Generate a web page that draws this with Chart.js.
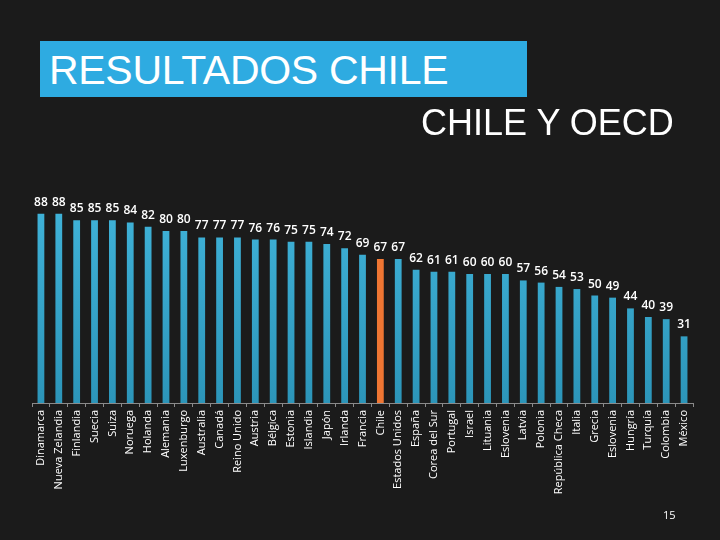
<!DOCTYPE html>
<html>
<head>
<meta charset="utf-8">
<script src="https://cdn.jsdelivr.net/npm/chart.js@4/dist/chart.umd.min.js"></script>
<style>
  html, body { margin: 0; padding: 0; background: #1b1b1b; }
  #wrap { position: relative; width: 720px; height: 540px; overflow: hidden; background: #1b1b1b; }
  #c { position: absolute; left: 0; top: 0; }
  #title { position: absolute; left: 40px; top: 41px; width: 487px; height: 56px; background: #2eabe1;
           color: #fff; font-family: "Liberation Sans", Arial, sans-serif; font-size: 41px; line-height: 58px;
           box-sizing: border-box; padding-left: 9px; white-space: nowrap; letter-spacing: -0.3px; }
  #sub { position: absolute; left: 421px; top: 103px; color: #fff; font-family: "Liberation Sans", Arial, sans-serif;
         font-size: 36px; line-height: 40px; white-space: nowrap; }
  #page { position: absolute; left: 663px; top: 507px; color: #fff; font-family: "Open Sans", sans-serif; font-size: 11px; }
</style>
</head>
<body>
<div id="wrap">
  <canvas id="c" width="720" height="540"></canvas>
  <div id="title">RESULTADOS CHILE</div>
  <div id="sub">CHILE Y OECD</div>
  <div id="page">15</div>
</div>
<script>
const countries = ["Dinamarca","Nueva Zelandia","Finlandia","Suecia","Suiza","Noruega","Holanda","Alemania","Luxenburgo","Australia","Canadá","Reino Unido","Austria","Bélgica","Estonia","Islandia","Japón","Irlanda","Francia","Chile","Estados Unidos","España","Corea del Sur","Portugal","Israel","Lituania","Eslovenia","Latvia","Polonia","República Checa","Italia","Grecia","Eslovenia","Hungría","Turquía","Colombia","México"];
const values = [88,88,85,85,85,84,82,80,80,77,77,77,76,76,75,75,74,72,69,67,67,62,61,61,60,60,60,57,56,54,53,50,49,44,40,39,31];
const highlight = "Chile";

const ctx = document.getElementById('c').getContext('2d');
const blueGrad = ctx.createLinearGradient(0, 190, 0, 403);
blueGrad.addColorStop(0, '#41b5db');
blueGrad.addColorStop(1, '#2c95b9');
const colors = countries.map(c => c === highlight ? '#f07633' : blueGrad);

const valueLabels = {
  id: 'valueLabels',
  afterDatasetsDraw(chart) {
    const c = chart.ctx;
    const meta = chart.getDatasetMeta(0);
    c.save();
    c.fillStyle = '#ffffff';
    c.font = '600 12px "Open Sans", sans-serif';
    c.textAlign = 'center';
    c.textBaseline = 'alphabetic';
    meta.data.forEach((bar, i) => {
      c.fillText(String(values[i]), bar.x, bar.y - 8);
    });
    c.restore();
  }
};

new Chart(ctx, {
  type: 'bar',
  data: {
    labels: countries,
    datasets: [{
      data: values,
      backgroundColor: colors,
      borderWidth: 0,
      categoryPercentage: 1,
      barPercentage: 0.38
    }]
  },
  options: {
    responsive: false,
    animation: false,
    devicePixelRatio: 1,
    layout: { padding: { left: 32, right: 27, top: 188, bottom: 0 } },
    plugins: { legend: { display: false }, tooltip: { enabled: false }, title: { display: false } },
    scales: {
      x: {
        grid: { display: true, drawOnChartArea: false, drawTicks: true, tickLength: 4, color: '#8a8a8a', offset: true },
        border: { display: true, color: '#8a8a8a', width: 1 },
        ticks: {
          autoSkip: false, minRotation: 90, maxRotation: 90, padding: 3,
          color: '#ffffff', font: { family: '"Open Sans", sans-serif', size: 11 }
        },
        afterFit(scale) { scale.height = 137; }
      },
      y: {
        display: false,
        min: 0, max: 100
      }
    }
  },
  plugins: [valueLabels]
});
</script>
</body>
</html>
